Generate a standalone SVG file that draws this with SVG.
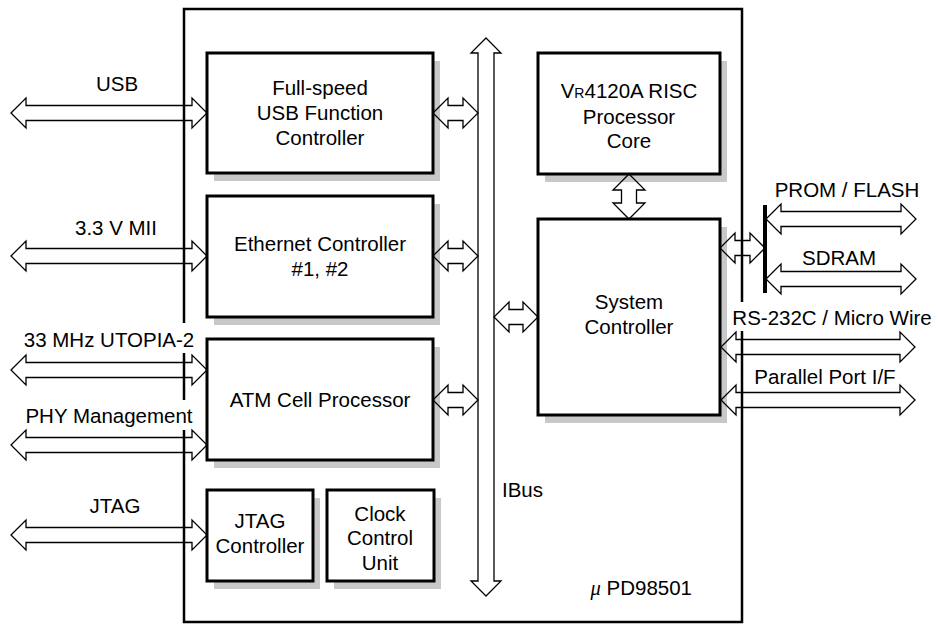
<svg xmlns="http://www.w3.org/2000/svg" width="940" height="625" viewBox="0 0 940 625">
<style>
text{font-family:"Liberation Sans",Arial,Helvetica,sans-serif;font-size:20.5px;fill:#000}
.c{text-anchor:middle}
.box{fill:#fff;stroke:#000;stroke-width:3}
.sh{fill:#c8c8c8}
.arr{fill:none;stroke:#000;stroke-width:1.3;stroke-linejoin:miter}
.bg{fill:#fff}
</style>
<rect x="0" y="0" width="940" height="625" fill="#fff"/>
<g id="chip">
<rect x="184" y="9" width="558" height="613" fill="none" stroke="#000" stroke-width="2.5"/>
<text x="502" y="497">IBus</text>
<text x="692" y="595" text-anchor="end"><tspan font-family="'Liberation Serif',serif" font-style="italic">μ</tspan> PD98501</text>
</g>
<g id="labels">
<rect class="bg" x="18" y="323" width="182" height="30"/>
<rect class="bg" x="18" y="400" width="180" height="30"/>
<rect class="bg" x="728" y="302" width="208" height="29"/>
<text class="c" x="117" y="91">USB</text>
<text class="c" x="116" y="235">3.3 V MII</text>
<text class="c" x="109" y="347">33 MHz UTOPIA-2</text>
<text class="c" x="109" y="423">PHY Management</text>
<text class="c" x="115" y="513">JTAG</text>
<text class="c" x="847" y="197">PROM / FLASH</text>
<text class="c" x="839" y="265">SDRAM</text>
<text class="c" x="832" y="325">RS-232C / Micro Wire</text>
<text class="c" x="825" y="384">Parallel Port I/F</text>
</g>
<g id="usb">
<rect class="sh" x="214" y="61" width="226" height="120"/>
<rect class="box" x="207" y="53" width="226" height="120"/>
<text class="c" x="320" y="95">Full-speed</text>
<text class="c" x="320" y="120">USB Function</text>
<text class="c" x="320" y="145">Controller</text>
</g>
<g id="ethernet">
<rect class="sh" x="214" y="204" width="226" height="121"/>
<rect class="box" x="207" y="196" width="226" height="121"/>
<text class="c" x="320" y="251">Ethernet Controller</text>
<text class="c" x="320" y="276">#1, #2</text>
</g>
<g id="atm">
<rect class="sh" x="214" y="347" width="226" height="121"/>
<rect class="box" x="207" y="339" width="226" height="121"/>
<text class="c" x="320" y="407">ATM Cell Processor</text>
</g>
<g id="jtag">
<rect class="sh" x="214" y="498" width="106" height="91"/>
<rect class="box" x="207" y="490" width="106" height="91"/>
<text class="c" x="260" y="528">JTAG</text>
<text class="c" x="260" y="553">Controller</text>
</g>
<g id="clock">
<rect class="sh" x="334" y="498" width="107" height="91"/>
<rect class="box" x="327" y="490" width="107" height="91"/>
<text class="c" x="380" y="521">Clock</text>
<text class="c" x="380" y="545">Control</text>
<text class="c" x="380" y="570">Unit</text>
</g>
<g id="cpu">
<rect class="sh" x="545" y="61" width="182" height="121"/>
<rect class="box" x="538" y="53" width="182" height="121"/>
<text class="c" x="629" y="98">V<tspan font-size="14">R</tspan>4120A RISC</text>
<text class="c" x="629" y="124">Processor</text>
<text class="c" x="629" y="148">Core</text>
</g>
<g id="sysctrl">
<rect class="sh" x="545" y="227" width="182" height="196"/>
<rect class="box" x="538" y="219" width="182" height="196"/>
<text class="c" x="629" y="309">System</text>
<text class="c" x="629" y="334">Controller</text>
</g>
<g id="connectors">
<path class="arr" d="M11,113 L26,98 L26,105.5 L192,105.5 L192,98 L207,113 L192,128 L192,120.5 L26,120.5 L26,128 Z"/>
<path class="arr" d="M11,256 L26,241 L26,248.5 L192,248.5 L192,241 L207,256 L192,271 L192,263.5 L26,263.5 L26,271 Z"/>
<path class="arr" d="M11,370 L26,355 L26,362.5 L192,362.5 L192,355 L207,370 L192,385 L192,377.5 L26,377.5 L26,385 Z"/>
<path class="arr" d="M11,445 L26,430 L26,437.5 L192,437.5 L192,430 L207,445 L192,460 L192,452.5 L26,452.5 L26,460 Z"/>
<path class="arr" d="M11,535 L26,520 L26,527.5 L192,527.5 L192,520 L207,535 L192,550 L192,542.5 L26,542.5 L26,550 Z"/>
<path class="arr" d="M433,113 L448,98 L448,105.5 L463,105.5 L463,98 L478,113 L463,128 L463,120.5 L448,120.5 L448,128 Z"/>
<path class="arr" d="M433,256 L448,241 L448,248.5 L463,248.5 L463,241 L478,256 L463,271 L463,263.5 L448,263.5 L448,271 Z"/>
<path class="arr" d="M433,400 L448,385 L448,392.5 L463,392.5 L463,385 L478,400 L463,415 L463,407.5 L448,407.5 L448,415 Z"/>
<path class="arr" d="M494,317 L509,302 L509,309.5 L523,309.5 L523,302 L538,317 L523,332 L523,324.5 L509,324.5 L509,332 Z"/>
<path class="arr" d="M486,38 L501,53 L494,53 L494,581 L501,581 L486,596 L471,581 L478,581 L478,53 L471,53 Z"/>
<path class="arr" d="M629,174 L645,190 L636.5,190 L636.5,203 L645,203 L629,219 L613,203 L621.5,203 L621.5,190 L613,190 Z"/>
<path class="arr" d="M720,248 L735,233 L735,240.5 L750,240.5 L750,233 L765,248 L750,263 L750,255.5 L735,255.5 L735,263 Z"/>
<line x1="765" y1="205" x2="765" y2="293" stroke="#000" stroke-width="4"/>
<path class="arr" d="M766,219 L781,204 L781,211.5 L901,211.5 L901,204 L916,219 L901,234 L901,226.5 L781,226.5 L781,234 Z"/>
<path class="arr" d="M766,279 L781,264 L781,271.5 L901,271.5 L901,264 L916,279 L901,294 L901,286.5 L781,286.5 L781,294 Z"/>
<path class="arr" d="M721,347 L736,332 L736,339.5 L900,339.5 L900,332 L915,347 L900,362 L900,354.5 L736,354.5 L736,362 Z"/>
<path class="arr" d="M721,400 L736,385 L736,392.5 L900,392.5 L900,385 L915,400 L900,415 L900,407.5 L736,407.5 L736,415 Z"/>
</g>
</svg>
